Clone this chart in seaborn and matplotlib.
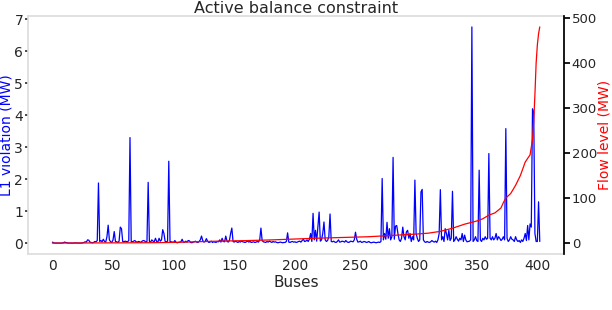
import numpy as np
import pandas as pd
import matplotlib
matplotlib.use("Agg")
import matplotlib.pyplot as plt
import seaborn as sns

# L1 violation per bus (MW), buses 0..402
violation = [
    0.03, 0.01, 0.0, 0.0, 0.0, 0.0, 0.0, 0.0, 0.0, 0.01, 0.03, 0.02, 0.01, 0.0, 0.0, 0.0, 0.0, 0.0, 0.0, 0.01,
    0.0, 0.0, 0.0, 0.0, 0.0, 0.01, 0.02, 0.04, 0.03, 0.10, 0.09, 0.03, 0.02, 0.01, 0.02, 0.05, 0.04, 0.08, 1.88, 0.05,
    0.08, 0.04, 0.12, 0.05, 0.03, 0.2, 0.56, 0.1, 0.04, 0.02, 0.1, 0.36, 0.05, 0.04, 0.02, 0.06, 0.5, 0.45, 0.05, 0.04,
    0.06, 0.05, 0.04, 0.08, 3.3, 0.05, 0.04, 0.06, 0.08, 0.04, 0.03, 0.05, 0.04, 0.02, 0.06, 0.08, 0.07, 0.03, 0.05, 1.9,
    0.05, 0.03, 0.1, 0.06, 0.04, 0.15, 0.05, 0.03, 0.15, 0.06, 0.1, 0.42, 0.3, 0.05, 0.04, 0.06, 2.56, 0.05, 0.04, 0.03,
    0.02, 0.08, 0.02, 0.01, 0.02, 0.03, 0.04, 0.12, 0.03, 0.02, 0.06, 0.03, 0.08, 0.07, 0.02, 0.01, 0.03, 0.04, 0.06, 0.03,
    0.02, 0.05, 0.1, 0.22, 0.08, 0.03, 0.05, 0.14, 0.06, 0.02, 0.03, 0.06, 0.02, 0.04, 0.03, 0.02, 0.05, 0.04, 0.1, 0.03,
    0.15, 0.05, 0.04, 0.22, 0.06, 0.03, 0.08, 0.3, 0.47, 0.05, 0.03, 0.06, 0.04, 0.02, 0.05, 0.03, 0.06, 0.04, 0.03, 0.02,
    0.04, 0.06, 0.03, 0.05, 0.02, 0.03, 0.04, 0.02, 0.03, 0.05, 0.03, 0.1, 0.47, 0.08, 0.04, 0.03, 0.02, 0.05, 0.03, 0.06,
    0.04, 0.02, 0.05, 0.03, 0.04, 0.02, 0.01, 0.02, 0.03, 0.02, 0.01, 0.02, 0.02, 0.05, 0.32, 0.03, 0.02, 0.04, 0.05, 0.03,
    0.04, 0.02, 0.03, 0.05, 0.06, 0.03, 0.08, 0.12, 0.05, 0.06, 0.1, 0.05, 0.12, 0.3, 0.05, 0.93, 0.1, 0.4, 0.06, 0.5,
    0.97, 0.06, 0.1, 0.3, 0.66, 0.1, 0.05, 0.08, 0.2, 0.91, 0.05, 0.04, 0.06, 0.03, 0.02, 0.05, 0.1, 0.03, 0.04, 0.06,
    0.05, 0.03, 0.08, 0.04, 0.02, 0.03, 0.06, 0.05, 0.04, 0.1, 0.34, 0.12, 0.03, 0.04, 0.06, 0.02, 0.03, 0.05, 0.04, 0.02,
    0.03, 0.05, 0.02, 0.01, 0.02, 0.03, 0.02, 0.01, 0.02, 0.03, 0.02, 0.05, 2.02, 0.1, 0.3, 0.12, 0.65, 0.15, 0.45, 0.1,
    0.2, 2.68, 0.12, 0.53, 0.55, 0.3, 0.1, 0.05, 0.15, 0.5, 0.2, 0.1, 0.35, 0.4, 0.15, 0.3, 0.05, 0.2, 0.1, 1.97,
    0.3, 0.15, 0.05, 0.1, 1.6, 1.68, 0.1, 0.04, 0.02, 0.05, 0.03, 0.02, 0.04, 0.08, 0.05, 0.03, 0.06, 0.02, 0.1, 0.3,
    1.67, 0.1, 0.2, 0.05, 0.45, 0.3, 0.1, 0.4, 0.08, 0.15, 1.62, 0.05, 0.1, 0.2, 0.12, 0.06, 0.15, 0.1, 0.3, 0.05,
    0.25, 0.1, 0.04, 0.05, 0.06, 0.1, 6.76, 0.05, 0.1, 0.2, 0.08, 0.05, 2.28, 0.1, 0.05, 0.15, 0.1, 0.2, 0.12, 0.15,
    2.8, 0.15, 0.1, 0.2, 0.1, 0.15, 0.3, 0.1, 0.2, 0.15, 0.08, 0.12, 0.2, 0.1, 3.58, 0.15, 0.05, 0.1, 0.2, 0.12,
    0.1, 0.05, 0.2, 0.1, 0.05, 0.08, 0.02, 0.1, 0.05, 0.15, 0.3, 0.08, 0.55, 0.1, 0.6, 0.5, 4.2, 4.1, 0.3, 0.05,
    0.05, 1.29, 0.05,
]

# Flow level (MW), sampled buses
flow_bus = [0, 20, 40, 60, 80, 100, 120, 140, 160, 180, 200, 220, 240, 260, 280, 300, 310, 320, 330,
            340, 350, 355, 360, 365, 370, 372, 374, 378, 382, 386, 390, 394, 396, 397, 398, 399, 400, 401, 402]
flow_level = [0, 0.2, 0.4, 0.6, 0.8, 1.5, 3, 4.5, 5.5, 7, 9, 11, 12.5, 14, 17, 20, 22, 26, 33,
              42, 49, 54, 62, 67, 78, 90, 100, 110, 128, 150, 180, 196, 230, 270, 330, 400, 440, 465, 480]

df_v = pd.DataFrame({"bus": np.arange(len(violation)), "viol": violation})
df_f = pd.DataFrame({"bus": flow_bus, "flow": flow_level})

sns.set_theme(style="white")
plt.rcParams['font.family'] = ['DejaVu Sans']

fig = plt.figure(figsize=(6.12, 3.10), dpi=100)
ax = fig.add_axes([0.0458, 0.181, 0.876, 0.767])

sns.lineplot(data=df_v, x="bus", y="viol", color="blue", linewidth=0.9,
             estimator=None, ax=ax)
ax.set_xlabel("Buses", fontsize=11, labelpad=1)
ax.set_ylabel("L1 violation (MW)", color="blue", fontsize=10, labelpad=0.5)
ax.set_title("Active balance constraint", fontsize=11.5, pad=1)
ax.tick_params(axis='y', labelsize=10, length=2.5, color='#333333', pad=1, left=True)
ax.tick_params(axis='x', labelsize=10, length=0, pad=4)
for s in ax.spines.values():
    s.set_color('#dddddd')

ax2 = ax.twinx()
sns.lineplot(data=df_f, x="bus", y="flow", color="red", linewidth=0.9,
             estimator=None, ax=ax2)
ax2.set_ylabel("Flow level (MW)", color="red", fontsize=10, labelpad=0)
ax2.tick_params(axis='y', labelsize=9.5, length=4, color='black', pad=1.5, right=True)
for name, s in ax2.spines.items():
    s.set_visible(False)
ax2.spines['right'].set_visible(True)
ax2.spines['right'].set_color('black')
ax2.set_xlabel("Buses")

ax.set_yticks(range(0, 8))
ax2.set_yticks(range(0, 501, 100))

fig.savefig("out.png", dpi=100)
